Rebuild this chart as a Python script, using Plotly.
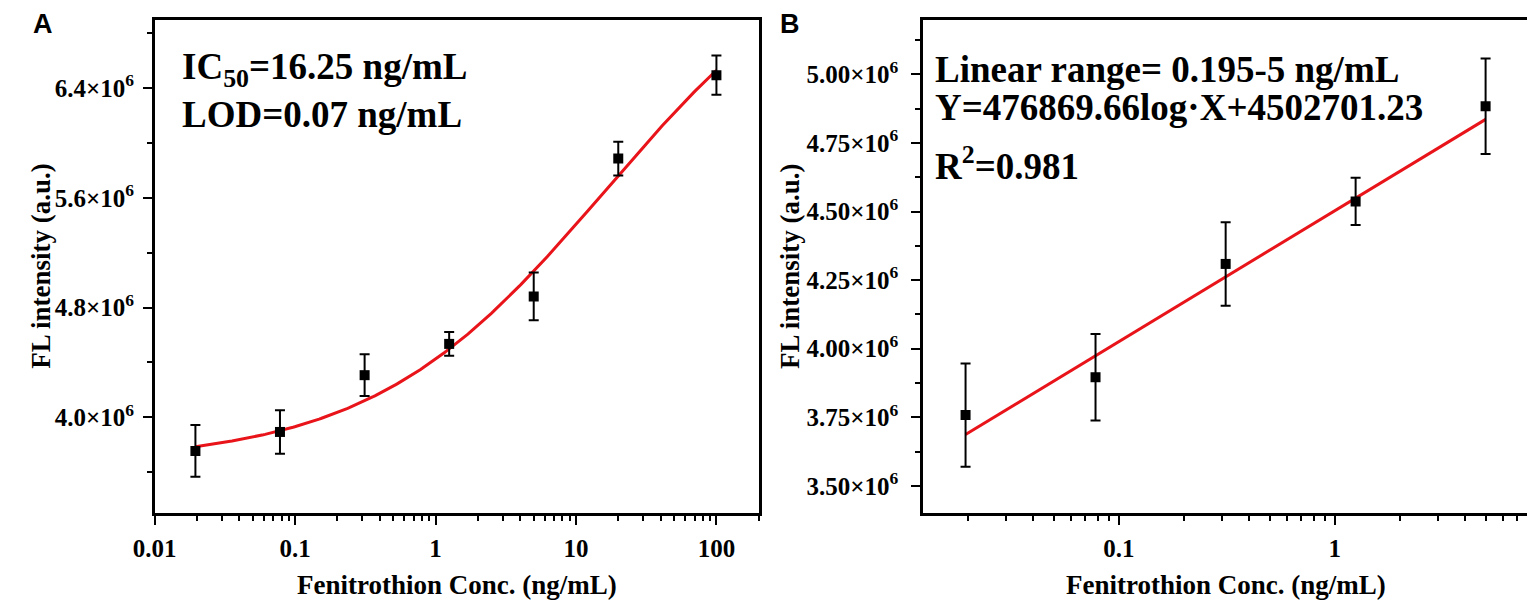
import numpy as np
import plotly.graph_objects as go

# ---------------- data ----------------
conc_a = [0.0195, 0.078, 0.3125, 1.25, 5, 20, 100]
fl_a = [3.755e6, 3.893e6, 4.307e6, 4.535e6, 4.881e6, 5.886e6, 6.494e6]
err_a = [0.188e6, 0.158e6, 0.152e6, 0.087e6, 0.174e6, 0.123e6, 0.143e6]

conc_b = [0.0195, 0.078, 0.3125, 1.25, 5]
fl_b = [3.758e6, 3.896e6, 4.309e6, 4.537e6, 4.884e6]
err_b = [0.188e6, 0.158e6, 0.152e6, 0.086e6, 0.174e6]

# four-parameter logistic fit (panel A)
fit_bottom = 3.669e6
fit_top = 7.642e6
fit_ic50 = 16.25
fit_slope = 0.52

# linear fit (panel B): Y = k*log10(X) + b
lin_k = 476869.66
lin_b = 4502701.23

yticks_a = [4.0e6, 4.8e6, 5.6e6, 6.4e6]
yticklabels_a = ["4.0×10<sup>6</sup>", "4.8×10<sup>6</sup>", "5.6×10<sup>6</sup>", "6.4×10<sup>6</sup>"]
yticks_b = [3.50e6, 3.75e6, 4.00e6, 4.25e6, 4.50e6, 4.75e6, 5.00e6]
yticklabels_b = ["3.50×10<sup>6</sup>", "3.75×10<sup>6</sup>", "4.00×10<sup>6</sup>", "4.25×10<sup>6</sup>",
                 "4.50×10<sup>6</sup>", "4.75×10<sup>6</sup>", "5.00×10<sup>6</sup>"]
xticks_a = [0.01, 0.1, 1, 10, 100]
xticklabels_a = ["0.01", "0.1", "1", "10", "100"]
xticks_b = [0.1, 1]
xticklabels_b = ["0.1", "1"]

# ---------------- fitted curves ----------------
xa_fit = np.logspace(np.log10(conc_a[0]), np.log10(conc_a[-1]), 300)
ya_fit = fit_top + (fit_bottom - fit_top) / (1 + (xa_fit / fit_ic50) ** fit_slope)
xb_fit = np.array([conc_b[0], conc_b[-1]])
yb_fit = lin_k * np.log10(xb_fit) + lin_b

W, H = 1535, 607
OFF = 8  # page body margin of the browser
SERIF = "Liberation Serif, Times New Roman, serif"
RED = "#e8141a"


def px_x(x):
    return (x - OFF) / W


def px_y(y):
    return 1 - (y - OFF) / H


fig = go.Figure()

err_style = dict(type="data", color="black", thickness=2, width=5, visible=True)
marker_style = dict(symbol="square", size=10, color="black")

fig.add_trace(go.Scatter(x=xa_fit, y=ya_fit, mode="lines", line=dict(color=RED, width=3),
                         xaxis="x", yaxis="y", showlegend=False, hoverinfo="skip"))
fig.add_trace(go.Scatter(x=conc_a, y=fl_a, mode="markers", marker=marker_style,
                         error_y=dict(array=err_a, **err_style), xaxis="x", yaxis="y", showlegend=False))
fig.add_trace(go.Scatter(x=xb_fit, y=yb_fit, mode="lines", line=dict(color=RED, width=3),
                         xaxis="x2", yaxis="y2", showlegend=False, hoverinfo="skip"))
fig.add_trace(go.Scatter(x=conc_b, y=fl_b, mode="markers", marker=marker_style,
                         error_y=dict(array=err_b, **err_style), xaxis="x2", yaxis="y2", showlegend=False))


def minor_log(lo, hi):
    vals = []
    for e in range(int(np.floor(lo)), int(np.ceil(hi)) + 1):
        for m in range(2, 10):
            v = m * 10.0 ** e
            if 10 ** lo <= v <= 10 ** hi:
                vals.append(v)
    return vals


tick_font = dict(family=SERIF, size=25, color="black", weight="bold")
axis_common = dict(showline=True, linecolor="black", linewidth=2.5, mirror=True,
                   ticks="outside", ticklen=9, tickwidth=2, tickcolor="black",
                   showgrid=False, zeroline=False, tickfont=tick_font)

xa_range = [-2, np.log10(200)]
xb_range = [-1.907, 0.895]
ydom = [px_y(513.3), px_y(19.5)]

fig.update_layout(
    width=W, height=H, margin=dict(l=0, r=0, t=0, b=0),
    paper_bgcolor="white", plot_bgcolor="white",
    xaxis=dict(domain=[px_x(134.5), px_x(747.3)], type="log", range=xa_range,
               tickvals=xticks_a, ticktext=xticklabels_a, anchor="y", ticklabelstandoff=2,
               minor=dict(tickvals=minor_log(*xa_range), ticks="outside", ticklen=5, tickwidth=2,
                          tickcolor="black", showgrid=False),
               **axis_common),
    yaxis=dict(domain=ydom, range=[3.3e6, 6.9e6], tickvals=yticks_a, ticktext=yticklabels_a,
               anchor="x", ticklabelstandoff=4,
               minor=dict(tickvals=[3.6e6, 4.4e6, 5.2e6, 6.0e6, 6.8e6], ticks="outside", ticklen=5,
                          tickwidth=2, tickcolor="black", showgrid=False),
               **axis_common),
    xaxis2=dict(domain=[px_x(914), px_x(1527.7)], type="log", range=xb_range,
                tickvals=xticks_b, ticktext=xticklabels_b, anchor="y2", ticklabelstandoff=2,
                minor=dict(tickvals=minor_log(*xb_range), ticks="outside", ticklen=5, tickwidth=2,
                           tickcolor="black", showgrid=False),
                **axis_common),
    yaxis2=dict(domain=ydom, range=[3.4e6, 5.2e6], tickvals=yticks_b, ticktext=yticklabels_b,
                anchor="x2", ticklabelstandoff=8,
                minor=dict(tickvals=[3.625e6, 3.875e6, 4.125e6, 4.375e6, 4.625e6, 4.875e6, 5.125e6],
                           ticks="outside", ticklen=5, tickwidth=2, tickcolor="black", showgrid=False),
                **axis_common),
)

ann_font = dict(family=SERIF, size=37, color="black", weight="bold")
title_font = dict(family=SERIF, size=27, color="black", weight="bold")
letter_font = dict(family="Liberation Sans, Arial, sans-serif", size=27, color="black", weight="bold")


def add_text(text, x, y, font, xanchor="left", yanchor="middle", angle=0, align="left"):
    fig.add_annotation(text=text, x=px_x(x), y=px_y(y), xref="paper", yref="paper",
                       xanchor=xanchor, yanchor=yanchor, showarrow=False, font=font,
                       textangle=angle, align=align)


# panel A texts
add_text("IC<sub>50</sub>=16.25 ng/mL<br>LOD=0.07 ng/mL", 160, 90, ann_font)
# panel B texts
add_text("Linear range= 0.195-5 ng/mL", 924, 69, ann_font)
add_text("Y=476869.66log·X+4502701.23", 924, 108, ann_font)
add_text("R<sup>2</sup>=0.981", 924, 163, ann_font)

# axis titles
add_text("Fenitrothion Conc. (ng/mL)", 441, 585, title_font, xanchor="center")
add_text("Fenitrothion Conc. (ng/mL)", 1221, 585, title_font, xanchor="center")
add_text("FL intensity (a.u.)", 19, 266, title_font, xanchor="center", angle=-90)
add_text("FL intensity (a.u.)", 779, 266, title_font, xanchor="center", angle=-90)

# panel letters
add_text("A", 21, 24, letter_font, xanchor="center")
add_text("B", 779, 24, letter_font, xanchor="center")

fig.write_html("out.html")
